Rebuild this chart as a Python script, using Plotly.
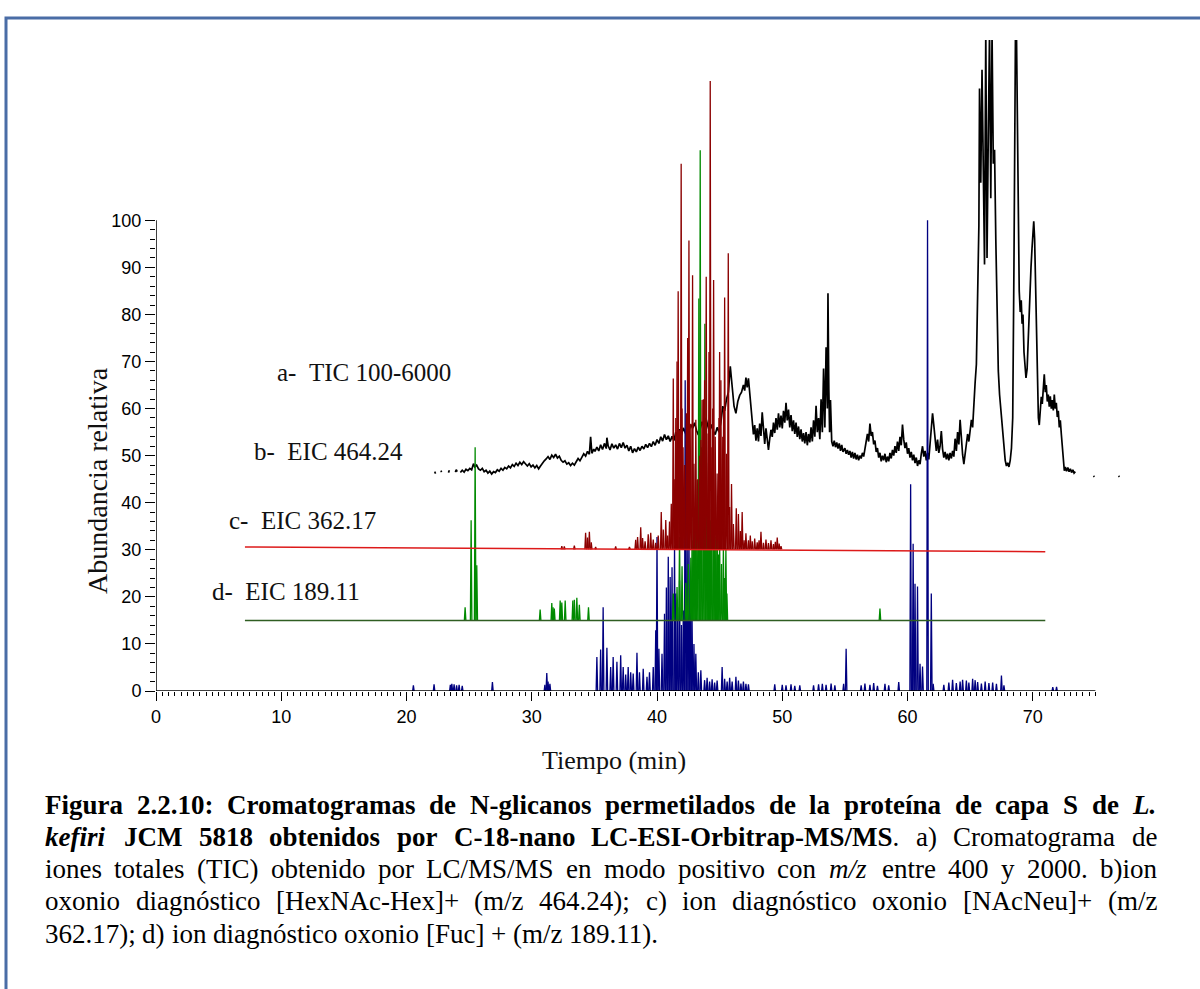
import plotly.graph_objects as go

# ---------------- data (time in min, relative abundance incl. stacking offset) ----------------
# a- TIC 100-6000 (None = gap in the trace)
tic_points = [
    (22.25, 46.6), (22.32, 46.2), None, (22.75, 46.8), (22.8, 46.5), None,
    (23.35, 46.4), (23.42, 46.9), None, (23.9, 46.5), (23.97, 47.0), (24.05, 46.6), None,
    (24.3, 46.4), (24.45, 46.9), (24.6, 46.5), (24.75, 47.1), (24.9, 46.8), (25.05, 47.3),
    (25.2, 47.0), (25.35, 48.3), (25.45, 47.6), (25.6, 48.0), (25.75, 47.2), (25.9, 46.9),
    (26.05, 47.3), (26.2, 46.6), (26.35, 46.9), (26.5, 46.3), (26.65, 46.7), (26.8, 46.1),
    (26.95, 46.6), (27.1, 46.4), (27.25, 47.0), (27.4, 46.7), (27.55, 47.3), (27.7, 46.9),
    (27.85, 47.5), (28.0, 47.2), (28.15, 47.8), (28.3, 47.4), (28.45, 48.1), (28.6, 47.7),
    (28.75, 48.4), (28.9, 47.9), (29.05, 48.6), (29.2, 48.1), (29.35, 48.7), (29.5, 48.2),
    (29.65, 47.8), (29.8, 48.3), (29.95, 47.6), (30.1, 48.0), (30.25, 47.4), (30.4, 47.9),
    (30.55, 47.2), (30.7, 47.8), (30.85, 48.4), (31.0, 48.9), (31.15, 49.3), (31.3, 49.8),
    (31.45, 49.2), (31.6, 50.1), (31.75, 49.6), (31.9, 50.3), (32.05, 49.5), (32.2, 49.9),
    (32.35, 49.0), (32.5, 48.6), (32.65, 48.9), (32.8, 48.2), (32.95, 48.5), (33.1, 47.9),
    (33.25, 48.4), (33.4, 48.0), (33.55, 48.7), (33.7, 49.4), (33.85, 48.9), (34.0, 49.8),
    (34.15, 50.4), (34.3, 49.9), (34.45, 50.9), (34.6, 50.3), (34.7, 54.0), (34.8, 50.5),
    (34.95, 51.4), (35.05, 50.9), (35.2, 51.8), (35.35, 51.0), (35.5, 52.3), (35.65, 51.3),
    (35.8, 52.6), (35.95, 51.5), (36.0, 53.8), (36.1, 52.1), (36.25, 51.2), (36.4, 52.5),
    (36.55, 51.6), (36.7, 52.3), (36.85, 51.4), (37.0, 52.6), (37.15, 51.7), (37.3, 52.8),
    (37.45, 51.6), (37.6, 52.2), (37.75, 51.0), (37.9, 52.0), (38.05, 50.6), (38.2, 51.5),
    (38.35, 50.8), (38.5, 51.8), (38.65, 51.1), (38.8, 52.0), (38.95, 51.4), (39.1, 52.4),
    (39.25, 51.7), (39.4, 52.6), (39.55, 51.9), (39.7, 53.0), (39.85, 52.2), (40.0, 53.4),
    (40.15, 52.6), (40.3, 54.0), (40.45, 53.1), (40.6, 54.5), (40.75, 53.4), (40.9, 54.2),
    (41.05, 53.0), (41.2, 54.1), (41.35, 53.2), (41.5, 55.0), (41.65, 53.9), (41.8, 55.6),
    (41.95, 54.3), (42.1, 55.9), (42.25, 54.8), (42.4, 54.0), (42.55, 55.3), (42.7, 56.6),
    (42.85, 55.8), (43.0, 57.0), (43.15, 55.4), (43.3, 54.4), (43.45, 55.7), (43.6, 57.2),
    (43.75, 56.2), (43.9, 58.0), (44.05, 56.4), (44.2, 55.0), (44.35, 56.6), (44.5, 55.2),
    (44.65, 54.5), (44.8, 56.0), (44.95, 55.0), (45.1, 57.0), (45.25, 60.5), (45.4, 59.5),
    (45.55, 62.0), (45.7, 63.5), (45.85, 69.0), (46.0, 64.0), (46.15, 60.5), (46.3, 59.0),
    (46.45, 61.5), (46.6, 62.8), (46.75, 63.5), (46.9, 65.0), (47.0, 63.8), (47.1, 66.6),
    (47.2, 64.5), (47.3, 66.4), (47.4, 63.0), (47.5, 60.0), (47.6, 57.0), (47.7, 54.5),
    (47.8, 56.5), (47.9, 53.2), (48.0, 55.8), (48.1, 53.0), (48.2, 56.8), (48.3, 54.2),
    (48.4, 59.2), (48.5, 54.5), (48.6, 52.5), (48.7, 55.8), (48.8, 53.0), (48.9, 51.2),
    (49.0, 53.6), (49.1, 55.5), (49.2, 54.0), (49.3, 57.0), (49.4, 54.8), (49.5, 58.0),
    (49.6, 55.5), (49.7, 59.0), (49.8, 56.0), (49.9, 58.5), (50.0, 55.8), (50.1, 59.5),
    (50.2, 57.0), (50.3, 61.2), (50.4, 57.5), (50.5, 59.8), (50.6, 56.0), (50.7, 58.6),
    (50.8, 55.2), (50.9, 57.5), (51.0, 54.6), (51.1, 57.0), (51.2, 54.0), (51.3, 56.2),
    (51.4, 53.5), (51.5, 55.6), (51.6, 53.0), (51.7, 54.8), (51.8, 52.6), (51.9, 55.0),
    (52.0, 52.2), (52.1, 54.6), (52.2, 52.8), (52.3, 56.0), (52.4, 53.0), (52.5, 57.5),
    (52.6, 54.0), (52.7, 60.6), (52.8, 55.0), (52.9, 58.0), (53.0, 53.5), (53.1, 62.0),
    (53.2, 55.0), (53.3, 68.5), (53.4, 56.0), (53.5, 73.0), (53.6, 60.0), (53.65, 84.5),
    (53.72, 64.0), (53.78, 55.0), (53.85, 61.8), (53.95, 53.0), (54.05, 52.0), (54.15, 53.2),
    (54.25, 51.8), (54.35, 52.8), (54.45, 51.5), (54.55, 52.6), (54.65, 51.0), (54.75, 52.3),
    (54.85, 50.8), (55.0, 51.6), (55.1, 50.4), (55.2, 51.2), (55.3, 50.2), (55.4, 51.0),
    (55.5, 49.6), (55.6, 50.8), (55.7, 49.4), (55.8, 50.6), (55.9, 49.2), (56.0, 50.2),
    (56.1, 49.0), (56.2, 50.0), (56.3, 49.4), (56.4, 50.6), (56.5, 49.8), (56.6, 51.2),
    (56.7, 52.8), (56.8, 54.6), (56.9, 53.0), (57.0, 56.8), (57.1, 54.2), (57.2, 55.0),
    (57.3, 52.4), (57.4, 53.2), (57.5, 50.8), (57.6, 51.6), (57.7, 49.6), (57.8, 50.6),
    (57.9, 48.8), (58.0, 50.0), (58.1, 49.0), (58.2, 50.4), (58.3, 48.6), (58.4, 49.8),
    (58.5, 48.8), (58.6, 50.6), (58.7, 49.4), (58.8, 51.2), (58.9, 50.0), (59.0, 52.0),
    (59.1, 50.6), (59.2, 53.0), (59.3, 51.0), (59.4, 54.0), (59.5, 52.2), (59.6, 56.6),
    (59.7, 53.4), (59.8, 51.6), (59.9, 52.8), (60.0, 50.4), (60.1, 51.6), (60.2, 49.6),
    (60.3, 50.8), (60.4, 49.0), (60.5, 50.2), (60.6, 48.4), (60.7, 49.6), (60.8, 47.8),
    (60.9, 49.0), (61.0, 48.2), (61.1, 50.4), (61.2, 52.0), (61.3, 49.8), (61.4, 51.0),
    (61.5, 49.0), (61.6, 50.6), (61.7, 49.2), (61.8, 52.0), (61.9, 55.4), (62.0, 59.0),
    (62.1, 56.5), (62.2, 53.2), (62.3, 51.0), (62.4, 53.4), (62.5, 50.6), (62.6, 52.0),
    (62.7, 55.2), (62.8, 51.4), (62.9, 49.6), (63.0, 50.8), (63.1, 49.2), (63.2, 50.4),
    (63.3, 49.0), (63.4, 50.6), (63.5, 49.4), (63.6, 51.0), (63.7, 49.8), (63.8, 53.6),
    (63.9, 51.0), (64.0, 55.0), (64.1, 52.4), (64.2, 57.6), (64.3, 53.0), (64.4, 50.2),
    (64.5, 48.2), (64.6, 50.0), (64.7, 52.0), (64.8, 54.6), (64.9, 53.0), (65.0, 55.2),
    (65.1, 57.6), (65.2, 56.0), (65.3, 62.0), (65.4, 65.6), (65.5, 69.4), (65.6, 82.0),
    (65.7, 99.0), (65.75, 128.0), (65.85, 108.0), (65.95, 132.0), (66.05, 114.0),
    (66.15, 90.6), (66.25, 140.0), (66.35, 92.0), (66.45, 118.0), (66.55, 140.0),
    (66.65, 104.7), (66.75, 140.0), (66.85, 112.0), (66.95, 115.0), (67.05, 96.0),
    (67.15, 82.0), (67.25, 68.0), (67.35, 63.0), (67.5, 58.0), (67.65, 53.0), (67.8, 49.0),
    (67.9, 47.8), (68.0, 48.5), (68.1, 47.6), (68.2, 49.0), (68.3, 51.6), (68.4, 58.0),
    (68.5, 90.6), (68.55, 118.0), (68.62, 140.0), (68.7, 140.0), (68.78, 121.7),
    (68.85, 96.0), (68.92, 85.0), (69.0, 80.5), (69.08, 83.0), (69.15, 78.0), (69.22, 80.0),
    (69.3, 72.0), (69.38, 70.0), (69.46, 66.5), (69.55, 68.4), (69.62, 74.0), (69.7, 76.4),
    (69.78, 82.0), (69.86, 90.0), (69.94, 94.0), (70.02, 97.0), (70.08, 99.8), (70.15, 96.0),
    (70.22, 86.0), (70.3, 74.3), (70.38, 62.0), (70.45, 58.0), (70.52, 56.5), (70.6, 60.0),
    (70.68, 62.5), (70.76, 61.0), (70.84, 64.0), (70.92, 67.3), (71.0, 63.5), (71.08, 65.0),
    (71.16, 61.5), (71.24, 63.0), (71.32, 60.4), (71.4, 62.6), (71.48, 60.0), (71.56, 61.8),
    (71.64, 59.6), (71.72, 63.0), (71.8, 60.0), (71.88, 61.2), (71.96, 58.2), (72.04, 59.5),
    (72.12, 56.0), (72.2, 57.5), (72.28, 54.6), (72.36, 52.0), (72.44, 49.5), (72.52, 46.8),
    (72.6, 47.6), (72.7, 46.7), (72.8, 47.5), (72.9, 46.6), (73.0, 47.2), (73.1, 46.4),
    (73.2, 47.0), (73.3, 46.3), (73.4, 46.6), None,
    (74.85, 45.7), (74.92, 45.5), None, (76.85, 45.7), (76.92, 45.5),
]

# b- EIC 464.24 peaks (time, apex), baseline offset 30
eic464_peaks = [
    (32.4, 30.8), (32.6, 30.7), (33.4, 30.9), (34.3, 33.6), (34.45, 32.6), (34.6, 33.8),
    (34.75, 31.6), (35.1, 30.6), (36.7, 30.7), (37.8, 30.6),
    (38.3, 32.1), (38.45, 32.7), (38.7, 34.8), (38.85, 32.5), (39.05, 31.8), (39.3, 33.3),
    (39.5, 33.6), (39.7, 32.2), (39.9, 31.5), (40.1, 33.0), (40.34, 38.0), (40.5, 34.3),
    (40.7, 36.3), (40.85, 33.0), (41.0, 36.0), (41.14, 39.8), (41.3, 66.4), (41.42, 45.0),
    (41.5, 58.0), (41.6, 70.0), (41.69, 84.9), (41.8, 55.4), (41.93, 112.0), (42.0, 60.0),
    (42.08, 51.8), (42.2, 48.0), (42.35, 59.0), (42.45, 75.0), (42.55, 95.7), (42.7, 56.8),
    (42.84, 88.3), (42.95, 48.3), (43.1, 57.6), (43.25, 45.0), (43.4, 50.0), (43.5, 53.3),
    (43.6, 61.8), (43.7, 62.0), (43.8, 66.0), (43.93, 88.0), (44.08, 54.7), (44.15, 72.0),
    (44.25, 129.6), (44.38, 51.8), (44.45, 60.0), (44.52, 87.3), (44.65, 54.0), (44.8, 46.2),
    (44.95, 58.0), (45.0, 72.0), (45.1, 66.0), (45.25, 54.0), (45.32, 60.0), (45.4, 83.6),
    (45.55, 50.4), (45.69, 93.0), (45.8, 39.1), (45.95, 44.0), (46.1, 35.5), (46.33, 38.8),
    (46.5, 37.6), (46.65, 34.0), (46.8, 38.0), (46.95, 32.0), (47.1, 33.5), (47.3, 32.0),
    (47.45, 33.0), (47.6, 31.8), (47.8, 32.4), (48.0, 31.6), (48.15, 32.0), (48.3, 33.8),
    (48.5, 31.5), (48.7, 32.2), (48.9, 31.4), (49.1, 32.0), (49.3, 31.2), (49.45, 31.7),
    (49.6, 32.6), (49.75, 31.3), (49.9, 30.8),
]

# c- EIC 362.17 peaks (time, apex), baseline offset 15
eic362_peaks = [
    (24.68, 17.8), (25.16, 36.3), (25.48, 51.8), (25.61, 26.7),
    (30.67, 17.3), (31.6, 18.7), (31.7, 17.8), (31.8, 17.5), (32.27, 19.2), (32.4, 18.8),
    (32.67, 19.2), (33.28, 19.2), (33.4, 19.4), (33.6, 19.8), (33.8, 18.3), (34.53, 17.8),
    (41.3, 20.7), (41.6, 22.1), (41.8, 32.7), (42.0, 26.5), (42.3, 23.0), (42.5, 27.0),
    (42.7, 28.3), (42.8, 32.0), (42.9, 39.1), (43.0, 36.3), (43.1, 44.8), (43.2, 35.0),
    (43.34, 83.4), (43.45, 114.9), (43.55, 51.8), (43.7, 44.1), (43.82, 78.0), (43.95, 48.4),
    (44.05, 39.1), (44.15, 46.2), (44.25, 36.3), (44.35, 39.1), (44.5, 44.8), (44.6, 35.5),
    (44.7, 32.7), (44.8, 36.0), (44.9, 29.0), (45.0, 31.7), (45.15, 27.0), (45.3, 30.3),
    (45.4, 24.0), (45.5, 30.3), (45.58, 20.7),
    (57.8, 17.5),
]

# d- EIC 189.11 peaks (time, apex), baseline offset 0
eic189_peaks = [
    (20.55, 1.2), (22.2, 1.4), (23.5, 1.3), (23.62, 1.5), (23.8, 1.4), (24.0, 1.2),
    (24.2, 1.3), (24.45, 1.1), (26.86, 1.9), (31.05, 1.3), (31.2, 3.8), (31.3, 2.0),
    (31.45, 1.5),
    (35.2, 7.2), (35.5, 8.8), (35.7, 17.8), (36.0, 9.2), (36.3, 5.1), (36.5, 7.2), (36.8, 6.2),
    (37.1, 7.6), (37.3, 5.1), (37.5, 3.5), (37.7, 5.1), (37.9, 4.0), (38.1, 3.7), (38.4, 8.1),
    (38.6, 4.0), (38.9, 4.7), (39.2, 3.0), (39.4, 4.0), (39.7, 5.1), (39.9, 12.9),
    (40.0, 32.7), (40.15, 9.0), (40.4, 7.9), (40.6, 16.4), (40.75, 22.0), (40.9, 28.5),
    (41.05, 24.2), (41.2, 26.3), (41.4, 30.9), (41.5, 20.7), (41.65, 17.8), (41.8, 23.5),
    (41.95, 14.0), (42.1, 17.1), (42.25, 66.0), (42.4, 37.0), (42.55, 34.0), (42.7, 23.5),
    (42.8, 15.0), (42.95, 10.0), (43.1, 7.9), (43.3, 4.0), (43.5, 4.4), (43.8, 2.3),
    (44.0, 2.8), (44.2, 2.0), (44.4, 2.5), (44.6, 1.8), (44.8, 2.2), (45.2, 5.1), (45.4, 2.6),
    (45.6, 2.0), (45.8, 2.8), (46.0, 2.0), (46.3, 3.0), (46.5, 2.2), (46.7, 1.6), (46.9, 2.0),
    (47.1, 1.5), (47.3, 1.4), (49.4, 1.4), (50.0, 1.3), (50.3, 1.2), (50.7, 1.4), (51.0, 1.1),
    (51.4, 1.2), (52.5, 1.2), (52.9, 1.4), (53.2, 1.5), (53.5, 1.3), (53.9, 1.6), (54.2, 1.2),
    (54.9, 1.5), (55.1, 9.0), (56.3, 1.2), (56.6, 1.6), (57.0, 1.3), (57.3, 1.7), (57.6, 1.1),
    (58.2, 1.5), (58.5, 1.2), (59.3, 1.9), (60.25, 43.9), (60.45, 31.3), (60.6, 22.8),
    (60.8, 22.2), (61.0, 5.8), (61.2, 5.2), (61.6, 100.0), (61.9, 20.7), (62.05, 1.5),
    (62.9, 1.3), (63.3, 1.8), (63.6, 2.4), (63.9, 1.7), (64.2, 2.0), (64.4, 2.4), (64.7, 2.2),
    (64.9, 1.8), (65.2, 2.6), (65.4, 2.3), (65.6, 1.9), (65.9, 1.6), (66.2, 2.0), (66.5, 1.7),
    (66.8, 1.8), (67.1, 1.5), (67.5, 3.3), (67.7, 1.2), (71.6, 0.8), (71.9, 0.9),
]

offset_464 = 30.1
offset_362 = 15.0
offset_189 = 0.0

red_base_t = [7.1, 71.0]
red_base_y = [30.6, 29.6]
green_base_t = [7.1, 71.0]
green_base_y = [15.0, 15.0]

trace_labels = ["a-&nbsp;&nbsp;TIC 100-6000", "b-&nbsp;&nbsp;EIC 464.24",
                "c-&nbsp;&nbsp;EIC 362.17", "d-&nbsp;&nbsp;EIC 189.11"]
label_t = [9.5, 7.7, 5.7, 4.3]
label_y = [67.6, 50.8, 36.3, 21.2]

x_major = list(range(0, 75, 2))
x_labels = [str(v) if v % 10 == 0 else "" for v in x_major]
x_minor = [v / 2 for v in range(0, 151)]
y_major = list(range(0, 101, 10))
y_labels = [str(v) for v in y_major]
y_minor = list(range(0, 101, 2))

# caption: (text, number of leading bold words, italic words, justified)
caption_spec = [
    ("Figura 2.2.10: Cromatogramas de N-glicanos permetilados de la proteína de capa S de L.",
     99, {"L."}, True),
    ("kefiri JCM 5818 obtenidos por C-18-nano LC-ESI-Orbitrap-MS/MS. a) Cromatograma de",
     7, {"kefiri"}, True),
    ("iones totales (TIC) obtenido por LC/MS/MS en modo positivo con m/z entre 400 y 2000. b)ion",
     0, {"m/z"}, True),
    ("oxonio diagnóstico [HexNAc-Hex]+ (m/z 464.24); c) ion diagnóstico oxonio [NAcNeu]+ (m/z",
     0, set(), True),
    ("362.17); d) ion diagnóstico oxonio [Fuc] + (m/z 189.11).", 0, set(), False),
]

# ---------------- helpers ----------------
W, H = 1200, 989
ML, MR, MT, MB = 156, 42, 40, 298
PW, PH = W - ML - MR, H - MT - MB
SERIF = "Liberation Serif, Times New Roman, serif"
SANS = "Liberation Sans, Arial, sans-serif"


def xp(px):
    return (px - ML) / PW


def yp(py):
    return (H - MB - py) / PH


def unzip(points):
    ts, ys = [], []
    for p in points:
        if p is None:
            ts.append(None)
            ys.append(None)
        else:
            ts.append(p[0])
            ys.append(p[1])
    return ts, ys


def sticks(peaks, base, w=0.06):
    xs, ys = [], []
    for t, h in peaks:
        xs += [t - w, t, t + w, None]
        ys += [base, h, base, None]
    return xs, ys


# Times-compatible advance widths (1/1000 em) for word placement of the justified caption
_REG = {' ': 250, '!': 333, '(': 333, ')': 333, '+': 564, ',': 250, '-': 333, '.': 250,
        '/': 278, ':': 278, ';': 278, '[': 333, ']': 333,
        'A': 722, 'B': 667, 'C': 667, 'D': 722, 'E': 611, 'F': 556, 'G': 722, 'H': 722,
        'I': 333, 'J': 389, 'K': 722, 'L': 611, 'M': 889, 'N': 722, 'O': 722, 'P': 556,
        'Q': 722, 'R': 667, 'S': 556, 'T': 611, 'U': 722, 'V': 722, 'W': 944, 'X': 722,
        'Y': 722, 'Z': 611, 'a': 444, 'b': 500, 'c': 444, 'd': 500, 'e': 444, 'f': 333,
        'g': 500, 'h': 500, 'i': 278, 'j': 278, 'k': 500, 'l': 278, 'm': 778, 'n': 500,
        'o': 500, 'p': 500, 'q': 500, 'r': 333, 's': 389, 't': 278, 'u': 500, 'v': 500,
        'w': 722, 'x': 500, 'y': 500, 'z': 444, 'í': 278, 'ó': 500}
_BOLD = dict(_REG)
_BOLD.update({':': 333, 'C': 722, 'E': 667, 'F': 611, 'G': 778, 'H': 778, 'I': 389,
              'J': 500, 'K': 778, 'L': 667, 'M': 944, 'O': 778, 'P': 611, 'Q': 778,
              'R': 722, 'T': 667, 'W': 1000, 'Z': 667, 'a': 500, 'b': 556, 'd': 556,
              'h': 556, 'j': 333, 'k': 556, 'm': 833, 'n': 556, 'p': 556, 'q': 556,
              'r': 444, 't': 333, 'u': 556})


def word_width(word, bold, size):
    table = _BOLD if bold else _REG
    return sum(table.get(ch, 500) for ch in word) * size / 1000.0


fig = go.Figure()

tic_t, tic_y = unzip(tic_points)
fig.add_trace(go.Scatter(x=tic_t, y=tic_y, mode="lines",
                         line=dict(color="#000000", width=1.7), connectgaps=False,
                         hoverinfo="skip"))

bx, by = sticks(eic189_peaks, offset_189)
fig.add_trace(go.Scatter(x=bx, y=by, mode="lines", line=dict(color="#000080", width=1.3),
                         hoverinfo="skip"))

gx, gy = sticks(eic362_peaks, offset_362)
fig.add_trace(go.Scatter(x=gx, y=gy, mode="lines", line=dict(color="#008a00", width=1.3),
                         hoverinfo="skip"))
fig.add_trace(go.Scatter(x=green_base_t, y=green_base_y, mode="lines",
                         line=dict(color="#2f5e22", width=1.5), hoverinfo="skip"))

rx, ry = sticks(eic464_peaks, offset_464)
fig.add_trace(go.Scatter(x=rx, y=ry, mode="lines", line=dict(color="#8b0000", width=1.3),
                         hoverinfo="skip"))
fig.add_trace(go.Scatter(x=red_base_t, y=red_base_y, mode="lines",
                         line=dict(color="#dd1a1a", width=1.5), hoverinfo="skip"))

annotations = []
for txt, t, y in zip(trace_labels, label_t, label_y):
    annotations.append(dict(x=t, y=y, xref="x", yref="y", text=txt, showarrow=False,
                            xanchor="left", yanchor="middle",
                            font=dict(family=SERIF, size=25, color="#111111")))

annotations.append(dict(x=xp(614), y=yp(760), xref="paper", yref="paper",
                        text="Tiempo (min)", showarrow=False, xanchor="center",
                        yanchor="middle", font=dict(family=SERIF, size=26, color="#111111")))
annotations.append(dict(x=xp(97), y=yp(481), xref="paper", yref="paper",
                        text="Abundancia relativa", showarrow=False, textangle=-90,
                        xanchor="center", yanchor="middle",
                        font=dict(family=SERIF, size=28, color="#111111")))

# caption, word by word so that lines are justified between x=45 and x=1157
CAP_SIZE = 27
CAP_LEFT, CAP_RIGHT = 45, 1157
cap_y = [805, 837, 869, 901, 934]
for (text, n_bold, italics, justify), py in zip(caption_spec, cap_y):
    words = text.split(" ")
    widths = [word_width(w, i < n_bold, CAP_SIZE) for i, w in enumerate(words)]
    if justify and len(words) > 1:
        gap = (CAP_RIGHT - CAP_LEFT - sum(widths)) / (len(words) - 1)
    else:
        gap = 0.25 * CAP_SIZE
    x = CAP_LEFT
    for i, (w, wd) in enumerate(zip(words, widths)):
        html = w
        if w in italics:
            html = "<i>" + html + "</i>"
        if i < n_bold:
            if w.endswith(".") and i == n_bold - 1 and n_bold < len(words):
                html = "<b>" + w[:-1] + "</b>."
            else:
                html = "<b>" + html + "</b>"
        annotations.append(dict(x=xp(x), y=yp(py), xref="paper", yref="paper", text=html,
                                showarrow=False, xanchor="left", yanchor="middle",
                                borderpad=0, borderwidth=0,
                                font=dict(family=SERIF, size=CAP_SIZE, color="#000000")))
        x += wd + gap

shapes = [
    dict(type="line", xref="x", yref="y", x0=0, x1=75, y0=0, y1=0,
         line=dict(color="#000000", width=1.5)),
    dict(type="line", xref="x", yref="y", x0=0, x1=0, y0=0, y1=100,
         line=dict(color="#000000", width=1.5)),
    dict(type="rect", xref="paper", yref="paper", x0=xp(6), x1=xp(1215), y0=yp(1010),
         y1=yp(18), line=dict(color="#4a6da6", width=3), fillcolor="rgba(0,0,0,0)"),
]

fig.update_layout(
    width=W, height=H,
    margin=dict(l=ML, r=MR, t=MT, b=MB),
    paper_bgcolor="white", plot_bgcolor="white",
    showlegend=False,
    annotations=annotations,
    shapes=shapes,
    xaxis=dict(range=[0, 80], showgrid=False, zeroline=False, showline=False,
               tickmode="array", tickvals=x_major, ticktext=x_labels,
               ticks="outside", ticklen=9, tickwidth=1.2, tickcolor="#000000",
               tickfont=dict(family=SANS, size=18, color="#000000"),
               minor=dict(tickmode="array", tickvals=x_minor, ticks="outside",
                          ticklen=4, tickwidth=1, tickcolor="#000000", showgrid=False)),
    yaxis=dict(range=[0, 138.3], showgrid=False, zeroline=False, showline=False,
               tickmode="array", tickvals=y_major, ticktext=y_labels,
               ticks="outside", ticklen=10, tickwidth=1.2, tickcolor="#000000",
               tickfont=dict(family=SANS, size=18, color="#000000"),
               minor=dict(tickmode="array", tickvals=y_minor, ticks="outside",
                          ticklen=5, tickwidth=1, tickcolor="#000000", showgrid=False)),
)

fig.write_html("out.html")
